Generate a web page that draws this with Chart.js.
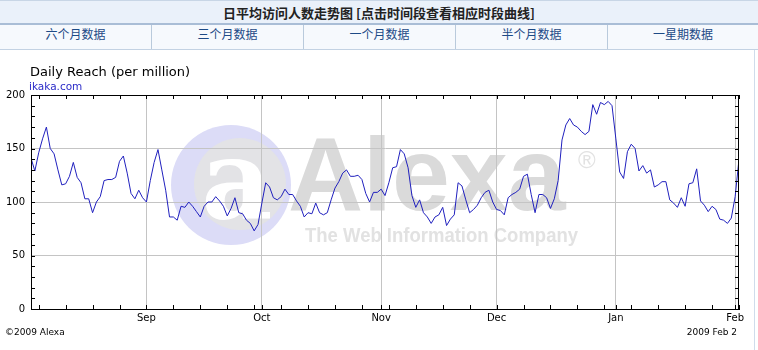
<!DOCTYPE html>
<html>
<head>
<meta charset="utf-8">
<script src="https://cdn.jsdelivr.net/npm/chart.js@4"></script>
<style>
  body { margin: 0; background: #fff; width: 758px; height: 350px; overflow: hidden; position: relative; }
  #head { position: absolute; left: 0; top: 0; width: 758px; height: 22px; background: #eaf1fa;
          border-top: 1px solid #c8d6e6; border-bottom: 2px solid #a9bdd6;
          font: bold 13px "Noto Sans CJK SC", sans-serif; color: #222; text-align: center; line-height: 23px; }
  #tabs { position: absolute; left: 0; top: 25px; width: 758px; height: 24px; display: flex;
          background: #f6f9fd; border-bottom: 1px solid #c3d2e3; }
  #tabs div { width: 151px; border-right: 1px solid #b9cadc; text-align: center; line-height: 24px;
              font: 12px "Noto Sans CJK SC", sans-serif; color: #1d4a86; }
  #tabs div:last-child { border-right: none; flex: 1; }
  #wrap { position: absolute; left: 0; top: 50px; width: 758px; height: 300px; }
  #edge { position: absolute; left: 754px; top: 50px; width: 1px; height: 300px; background: #cfdceb; }
</style>
</head>
<body>
<div id="head">日平均访问人数走势图 [点击时间段查看相应时段曲线]</div>
<div id="tabs"><div>六个月数据</div><div>三个月数据</div><div>一个月数据</div><div>半个月数据</div><div>一星期数据</div></div>
<div id="wrap"><canvas id="reach"></canvas></div>
<div id="edge"></div>
<script>
// daily reach, Aug 2 2008 .. Feb 2 2009 (day 0 = Aug 2)
const reach = [
  141, 129, 146, 159, 170, 150, 145, 130, 116, 117,
  124, 137, 123, 118, 103, 103, 90, 100, 105, 120,
  121, 121, 123, 138, 143, 127, 108, 103, 111, 104,
  100, 120, 137, 149, 130, 111, 86, 86, 83, 96,
  95, 100, 96, 91, 86, 96, 100, 100, 105, 101,
  96, 87, 94, 104, 90, 89, 83, 80, 73, 79,
  99, 118, 114, 104, 102, 105, 112, 107, 107, 101,
  96, 86, 90, 89, 99, 90, 88, 90, 102, 113,
  119, 127, 130, 124, 124, 125, 121, 108, 100, 109,
  109, 112, 106, 118, 132, 133, 149, 145, 132, 106,
  95, 102, 90, 86, 80, 86, 88, 95, 78, 84,
  88, 118, 115, 102, 90, 93, 97, 104, 109, 111,
  100, 93, 92, 88, 104, 107, 109, 112, 124, 126,
  107, 90, 107, 107, 104, 94, 103, 120, 158, 172,
  178, 172, 170, 166, 163, 166, 191, 182, 193, 191,
  194, 190, 159, 128, 122, 147, 154, 150, 129, 134,
  127, 130, 114, 116, 119, 119, 102, 99, 95, 104,
  96, 117, 118, 131, 101, 97, 91, 96, 93, 84,
  83, 80, 85, 105, 140
];
const monthLabels = ['Sep', 'Oct', 'Nov', 'Dec', 'Jan', 'Feb'];
const monthDays = [30, 60, 91, 121, 152, 183];
const yTicks = [0, 50, 100, 150, 200];
const firstMonday = 2;

const siteName = 'ikaka.com';
const chartTitle = 'Daily Reach (per million)';

const decor = {
  id: 'decor',
  beforeDraw(chart) {
    const c = chart.ctx;
    c.save();
    // Alexa watermark
    c.fillStyle = '#dcdcf7';
    c.beginPath(); c.arc(231, 135, 60, 0, Math.PI * 2); c.fill();
    c.fillStyle = '#e3e3e6';
    c.beginPath(); c.arc(240, 134, 46, 0, Math.PI * 2); c.fill();
    c.fillStyle = '#ffffff';
    c.font = 'bold 110px "DejaVu Serif"';
    c.textAlign = 'center';
    c.fillText('a', 237, 168);
    c.fillStyle = '#dadada';
    c.textAlign = 'left';
    c.font = 'bold 104px "Liberation Sans"';
    c.fillText('Alexa', 288, 160);
    c.fillStyle = '#e2e2e2';
    c.font = 'bold 20px "Liberation Sans"';
    const sub = 'The Web Information Company';
    const w = c.measureText(sub).width;
    c.save();
    c.translate(305, 192);
    c.scale(273 / w, 1);
    c.fillText(sub, 0, 0);
    c.restore();
    c.font = '24px "Liberation Sans"';
    c.fillText('®', 578, 118);
    // title
    c.fillStyle = '#000';
    c.font = '13px "DejaVu Sans"';
    c.fillText(chartTitle, 30, 26);
    c.fillStyle = '#2b2bc8';
    c.font = '10.5px "DejaVu Sans"';
    c.fillText(siteName, 29, 40);
    c.restore();
  },
  afterDraw(chart) {
    const c = chart.ctx, a = chart.chartArea;
    const xs = chart.scales.x, ys = chart.scales.y;
    c.save();
    c.strokeStyle = '#000';
    c.lineWidth = 1;
    c.strokeRect(Math.round(a.left) + 0.5, Math.round(a.top) + 0.5,
                 Math.round(a.right - a.left) - 1, Math.round(a.bottom - a.top));
    c.beginPath();
    const marks = [];
    for (let d = firstMonday; d <= 184; d += 7) marks.push(d);
    marks.concat(monthDays).forEach(d => {
      const x = Math.round(xs.getPixelForValue(d)) + 0.5;
      c.moveTo(x, a.bottom); c.lineTo(x, a.bottom - 4);
      c.moveTo(x, a.top); c.lineTo(x, a.top + 4);
    });
    for (let v = 10; v < 200; v += 10) {
      const y = Math.round(ys.getPixelForValue(v)) + 0.5;
      c.moveTo(a.left, y); c.lineTo(a.left + 4, y);
      c.moveTo(a.right, y); c.lineTo(a.right - 4, y);
    }
    c.stroke();
    c.fillStyle = '#000';
    c.font = '9px "DejaVu Sans"';
    c.fillText('©2009 Alexa', 5, 285);
    c.textAlign = 'right';
    c.fillText('2009 Feb 2', 737, 285);
    c.restore();
  }
};

new Chart(document.getElementById('reach'), {
  type: 'line',
  data: {
    datasets: [{
      data: reach.map((v, i) => ({ x: i, y: v })),
      borderColor: '#2020be',
      borderWidth: 1,
      pointRadius: 0,
      tension: 0
    }]
  },
  options: {
    responsive: true,
    maintainAspectRatio: false,
    animation: false,
    events: [],
    layout: { padding: { top: 45, right: 19, left: 0, bottom: 0 } },
    plugins: { legend: { display: false }, tooltip: { enabled: false } },
    scales: {
      x: {
        type: 'linear', min: 0, max: 184,
        afterBuildTicks: s => { s.ticks = monthDays.map(v => ({ value: v })); },
        afterFit: s => { s.height = 41; },
        ticks: {
          autoSkip: false, maxRotation: 0, padding: 3, color: '#000',
          font: { family: 'DejaVu Sans', size: 10 },
          callback: v => monthLabels[monthDays.indexOf(v)]
        },
        grid: { color: '#c4c4c4', drawTicks: false },
        border: { color: '#000' }
      },
      y: {
        min: 0, max: 200,
        afterBuildTicks: s => { s.ticks = yTicks.map(v => ({ value: v })); },
        afterFit: s => { s.width = 31; },
        ticks: { padding: 6, color: '#000', font: { family: 'DejaVu Sans', size: 10 } },
        grid: {
          color: ctx => (ctx.tick.value === 0 || ctx.tick.value === 200) ? 'rgba(0,0,0,0)' : '#c4c4c4',
          drawTicks: false
        },
        border: { color: '#000' }
      }
    }
  },
  plugins: [decor]
});
</script>
</body>
</html>
